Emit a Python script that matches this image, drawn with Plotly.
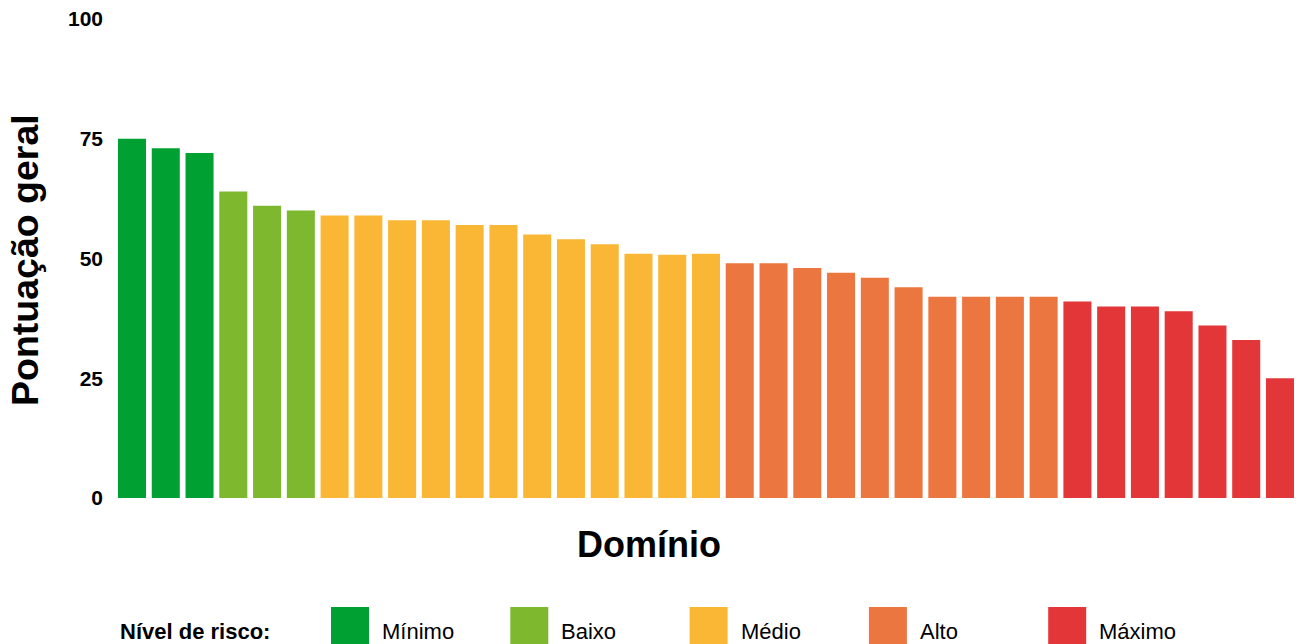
import plotly.graph_objects as go

# Overall score per domain, sorted from best to worst
scores = [75, 73, 72, 64, 61, 60, 59, 59, 58, 58, 57, 57, 55, 54, 53, 51, 50.8, 51,
          49, 49, 48, 47, 46, 44, 42, 42, 42, 42, 41, 40, 40, 39, 36, 33, 25]
# Risk level of each domain (index into risk_levels)
risk_of_bar = [0] * 3 + [1] * 3 + [2] * 12 + [3] * 10 + [4] * 7

risk_levels = ["Mínimo", "Baixo", "Médio", "Alto", "Máximo"]
risk_colors = ["#00A032", "#7DB82F", "#F9B735", "#EC763F", "#E33638"]

y_ticks = [0, 25, 50, 75, 100]

W, H = 1296, 644
ML, MR, MT, MB = 118, 2, 19, 146
PW, PH = W - ML - MR, H - MT - MB
FONT = "Liberation Sans, Arial, Helvetica, sans-serif"


def px_x(px):
    return (px - ML) / PW


def px_y(py):
    return (H - MB - py) / PH


fig = go.Figure()
for lvl, (name, color) in enumerate(zip(risk_levels, risk_colors)):
    xs = [i for i, r in enumerate(risk_of_bar) if r == lvl]
    ys = [scores[i] for i in xs]
    fig.add_trace(go.Bar(x=xs, y=ys, name=name, marker=dict(color=color, line=dict(width=0)),
                         width=0.83, showlegend=False))

n = len(scores)
fig.update_layout(
    width=W, height=H,
    margin=dict(l=ML, r=MR, t=MT, b=MB),
    paper_bgcolor="white", plot_bgcolor="white",
    barmode="overlay",
    font=dict(family=FONT, color="black"),
    xaxis=dict(range=[-0.415, n - 1 + 0.415], showticklabels=False, showgrid=False,
               zeroline=False, showline=False, ticks=""),
    yaxis=dict(range=[0, 100], tickvals=y_ticks, showgrid=False, zeroline=False,
               showline=False, ticks="", ticklabelstandoff=14,
               tickfont=dict(family=FONT, size=21, weight="bold", color="black")),
)

annotations = [
    dict(text="<b>Domínio</b>", x=px_x(649), y=px_y(544), xanchor="center", yanchor="middle",
         font=dict(size=36, family=FONT, color="black")),
    dict(text="<b>Pontuação geral</b>", x=px_x(25), y=px_y(260), xanchor="center",
         yanchor="middle", textangle=-90, font=dict(size=37.5, family=FONT, color="black")),
    dict(text="<b>Nível de risco:</b>", x=px_x(118), y=px_y(631), xanchor="left",
         yanchor="middle", font=dict(size=22, family=FONT, color="black")),
]

shapes = []
sw_left0, sw_step, sw_w = 331, 179.3, 38
for i, (name, color) in enumerate(zip(risk_levels, risk_colors)):
    left = sw_left0 + i * sw_step
    shapes.append(dict(type="rect", xref="paper", yref="paper",
                       x0=px_x(left), x1=px_x(left + sw_w), y0=px_y(607), y1=px_y(660),
                       fillcolor=color, line=dict(width=0), layer="above"))
    annotations.append(dict(text=name, x=px_x(left + sw_w + 11), y=px_y(631), xanchor="left",
                            yanchor="middle", font=dict(size=22, family=FONT, color="black")))

for a in annotations:
    a.update(xref="paper", yref="paper", showarrow=False)

fig.update_layout(annotations=annotations, shapes=shapes)
fig.write_html("out.html")
